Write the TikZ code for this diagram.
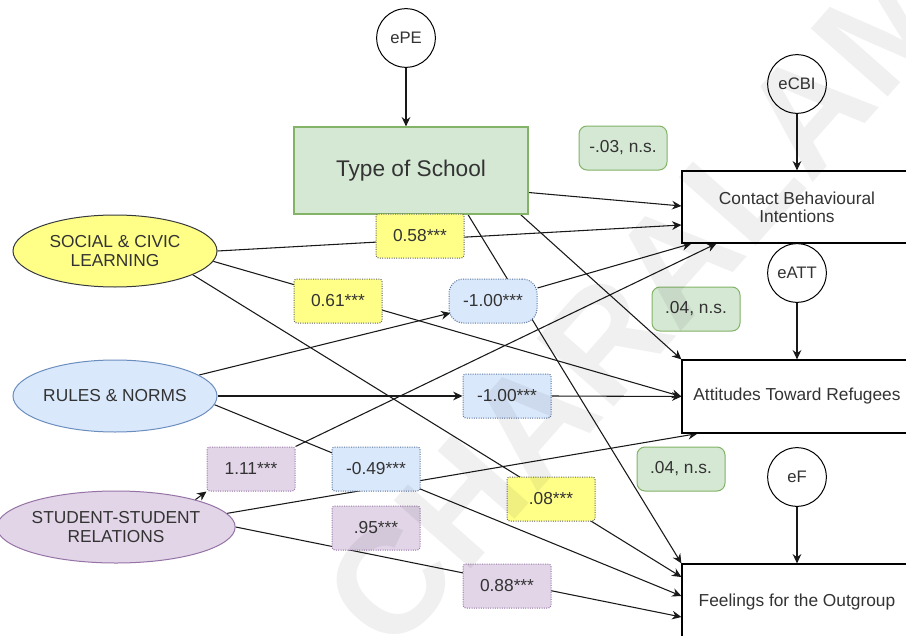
\documentclass[tikz,border=0pt]{standalone}
\usepackage{fontspec}
\setmainfont{Liberation Sans}
\usetikzlibrary{arrows.meta,calc,shapes.geometric}

\definecolor{ylwfill}{HTML}{FFFF88}
\definecolor{ylwline}{HTML}{36393D}
\definecolor{bluefill}{HTML}{DAE8FC}
\definecolor{blueline}{HTML}{6C8EBF}
\definecolor{purfill}{HTML}{E1D5E7}
\definecolor{purline}{HTML}{9673A6}
\definecolor{grnfill}{HTML}{D5E8D4}
\definecolor{grnline}{HTML}{82B366}
\definecolor{txt}{HTML}{333333}

\pgfdeclarelayer{bg}
\pgfdeclarelayer{edges}
\pgfsetlayers{bg,edges,main}

\tikzset{
  latent/.style={ellipse, draw, line width=0.75pt, minimum width=153pt,
    minimum height=54pt, align=center, inner sep=0pt,
    font=\fontsize{13}{14.5}\selectfont},
  errc/.style={circle, draw=black, fill=white, line width=0.75pt,
    minimum size=44pt, inner sep=0pt, font=\fontsize{12.5}{14}\selectfont},
  measure/.style={rectangle, draw=black, fill=white, line width=0.9pt,
    minimum width=172.5pt, minimum height=54pt, align=center,
    font=\fontsize{13}{13.5}\selectfont},
  coef/.style={rectangle, rounded corners=2pt, densely dotted, line width=0.75pt,
    minimum width=66pt, minimum height=33pt, inner sep=0pt},
  ycoef/.style={coef, draw=ylwline!80, fill=ylwfill},
  bcoef/.style={coef, draw=blueline!80!black, fill=bluefill},
  pcoef/.style={coef, draw=purline, fill=purfill},
  nscoef/.style={rectangle, rounded corners=6pt, draw=grnline, fill=grnfill,
    line width=0.75pt, minimum width=66pt, minimum height=33pt, inner sep=0pt},
  arc/.style={draw=black!90, line width=0.8pt, -{Stealth[length=7pt,width=6.5pt]}},
}

\newcommand{\sig}[1]{#1***}

\begin{document}
\begin{tikzpicture}[x=0.75pt, y=-0.75pt, font=\fontsize{13}{15}\selectfont, text=txt]
\useasboundingbox (0,0) rectangle (906,635);
\clip (0,0) rectangle (906,635);

% white page
\begin{pgfonlayer}{bg}
\fill[white] (0,0) rectangle (906,635);
\end{pgfonlayer}

% exogenous and outcome variables
\node[rectangle, draw=grnline, fill=grnfill, line width=0.9pt, minimum width=175.5pt,
  minimum height=65.25pt, font=\fontsize{17}{19}\selectfont] (TS) at (411,170.5) {Type of School};
\node[errc] (ePE) at (406,38) {ePE};

\node[latent, draw=ylwline, fill=ylwfill] (SOC) at (115,251) {SOCIAL \& CIVIC\\LEARNING};
\node[latent, draw=blueline, fill=bluefill] (RUL) at (115,396) {RULES \& NORMS};
\node[latent, draw=purline, fill=purfill, minimum width=154.5pt] (STU) at (116,527) {STUDENT-STUDENT\\RELATIONS};

\node[measure] (CBI) at (797,207) {Contact Behavioural\\Intentions};
\node[measure, minimum height=54.75pt] (ATT) at (797,396.5) {Attitudes Toward Refugees};
\node[measure, minimum height=57pt] (FO) at (797,602) {Feelings for the Outgroup};

\node[errc] (eCBI) at (797,84) {eCBI};
\node[errc] (eATT) at (797,273) {eATT};
\node[errc] (eF) at (797,477) {eF};

% path coefficients
\node[ycoef] (c058) at (420,236) {\sig{0.58}};
\node[ycoef] (c061) at (338,301) {\sig{0.61}};
\node[bcoef, rounded corners=11pt] (c100a) at (493,301) {\sig{-1.00}};
\node[bcoef] (c100b) at (507,396) {\sig{-1.00}};
\node[pcoef] (c111) at (251,469) {\sig{1.11}};
\node[bcoef] (c049) at (376,469) {\sig{-0.49}};
\node[pcoef] (c095) at (376,528) {\sig{.95}};
\node[ycoef] (c008) at (551,499) {\sig{.08}};
\node[pcoef] (c088) at (507,586) {\sig{0.88}};
\node[nscoef] (ns1) at (623,148) {-.03, n.s.};
\node[nscoef] (ns2) at (696,309) {.04, n.s.};
\node[nscoef] (ns3) at (681,469) {.04, n.s.};

\begin{pgfonlayer}{edges}
% residuals
\draw[arc] (ePE.south) -- (ePE.south |- TS.north);
\draw[arc] (eCBI) -- (CBI);
\draw[arc] (eATT) -- (ATT);
\draw[arc] (eF) -- (FO);

% type of school
\draw[arc] ($(TS.east)+(0,22)$) -- ($(CBI.west)+(0,-1)$);
\draw[arc] ($(TS.south east)+(-8,0)$) -- (ATT.north west);
\draw[arc] ($(TS.south)+(57,0)$) -- (FO.north west);

% social & civic learning
\draw[arc] (SOC.east) -- ($(CBI.west)+(0,18)$);
\draw[arc] (SOC.-6.5) -- (ATT.west);
\draw[arc] (SOC.-17) -- ($(FO.west)+(0,-25)$);

% rules & norms
\draw[arc] (RUL.14) -- ($(c100a.west)+(2,12)$);
\draw[arc] ($(c100a.east)+(0,-13)$) -- ($(CBI.south west)+(10,0)$);
\draw[arc] (RUL.east) -- (c100b.west);
\draw[arc] (c100b.east) -- (ATT.west);
\draw[arc] (RUL.-5) -- ($(FO.west)+(0,-6)$);

% student-student relations
\draw[arc] (STU.19) -- (c111.south west);
\draw[arc] (c111.north east) -- ($(CBI.south west)+(35,0)$);
\draw[arc] (STU.7) -- ($(ATT.south west)+(16,0)$);
\draw[arc] (STU.east) -- ($(FO.west)+(0,15)$);
\end{pgfonlayer}

% translucent watermark over the whole figure
\node[rotate=48.5, text=black, text opacity=0.06, inner sep=0pt,
  font=\bfseries\fontsize{112}{112}\selectfont] (wmark) at (640,300) {CHARALAM};
\end{tikzpicture}
\end{document}
